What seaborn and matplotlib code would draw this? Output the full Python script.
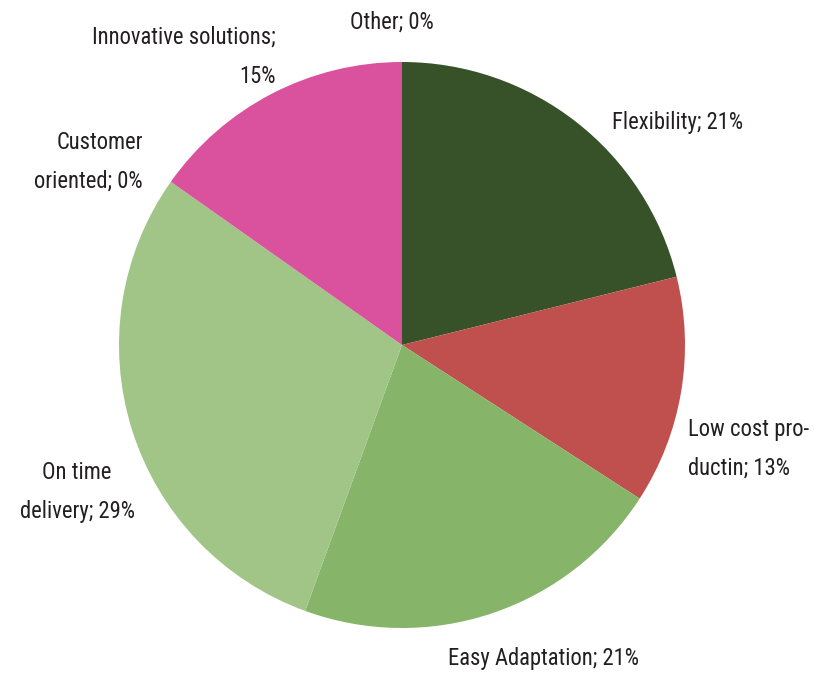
import matplotlib
matplotlib.use("Agg")
import matplotlib.pyplot as plt
import seaborn as sns

categories = ["Flexibility", "Low cost pro-\nductin", "Easy Adaptation", "On time\ndelivery",
              "Customer\noriented", "Innovative solutions;\n", "Other"]
values = [21.1, 13.0, 21.4, 29.2, 0.0, 15.2, 0.0]
pct_labels = ["21%", "13%", "21%", "29%", "0%", "15%", "0%"]
colors = ["#375128", "#C0504D", "#86B56A", "#A0C586", "#A0C586", "#DA529E", "#DA529E"]

sns.set_theme(style="white")
plt.rcParams['font.family'] = ['Liberation Sans Narrow', 'DejaVu Sans Condensed',
                               'Roboto Condensed', 'Roboto', 'DejaVu Sans']

fig = plt.figure(figsize=(8.15, 6.75), dpi=100)
ax = fig.add_axes([0, 0, 1, 1])
W, H = 815, 675
cx, cy, R = 402, 345, 283

wedges, _ = ax.pie(values, colors=colors, startangle=90, counterclock=False,
                   radius=1.0, wedgeprops=dict(linewidth=0))
ax.set_xlim(-cx / R, (W - cx) / R)
ax.set_ylim(-(H - cy) / R, cy / R)
ax.set_aspect("equal")
ax.axis("off")

def px(x, y):
    return ((x - cx) / R, (cy - y) / R)

txt = "#231F20"
fs = 16.3
# label placements (pixel coords): (x, y, ha)
place = [
    (612, 123, "left"),
    (688, 449, "left"),
    (543, 659, "center"),
    (77, 492, "center"),
    (143, 162, "right"),
    (276, 57, "right"),
    (392, 22, "center"),
]
for i, (name, pct) in enumerate(zip(categories, pct_labels)):
    if name.endswith(";\n"):
        label = name + pct
    else:
        label = name + "; " + pct
    x, y, ha = place[i]
    ax.text(*px(x, y), label, ha=ha, va="center", fontsize=fs, color=txt,
            multialignment=ha, linespacing=1.9)

fig.savefig("out.png", dpi=100, facecolor="white")
